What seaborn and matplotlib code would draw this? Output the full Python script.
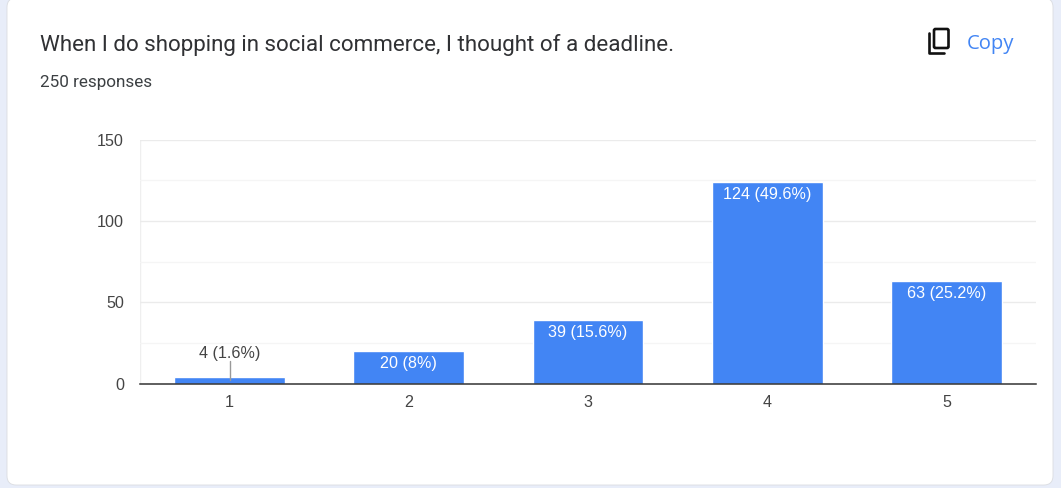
import matplotlib
matplotlib.use("Agg")
import matplotlib.pyplot as plt
from matplotlib.patches import FancyBboxPatch
from matplotlib.lines import Line2D
import pandas as pd
import seaborn as sns

categories = ["1", "2", "3", "4", "5"]
counts = [4, 20, 39, 124, 63]
value_labels = ["4 (1.6%)", "20 (8%)", "39 (15.6%)", "124 (49.6%)", "63 (25.2%)"]
major_ticks = [0, 50, 100, 150]
minor_ticks = [25, 75, 125]
title_text = "When I do shopping in social commerce, I thought of a deadline."
subtitle_text = "250 responses"
copy_text = "Copy"

W, H = 1061, 488
BLUE = "#4285f4"
sns.set_theme(style="white")
plt.rcParams["font.family"] = ["Liberation Sans", "DejaVu Sans"]

fig = plt.figure(figsize=(W / 100, H / 100), dpi=100, facecolor="#e8edf9")

# Full-figure overlay measured in pixels, y pointing down
overlay = fig.add_axes([0, 0, 1, 1], zorder=0)
overlay.set_xlim(0, W)
overlay.set_ylim(H, 0)
overlay.axis("off")
overlay.add_patch(FancyBboxPatch((7, -2), 1046, 487, boxstyle="round,pad=0,rounding_size=9",
                                 fc="white", ec="#dadce0", lw=0.6))
overlay.text(40, 45, title_text, fontsize=16.1, family="Roboto", color="#303134", va="center", ha="left")
overlay.text(40, 82, subtitle_text, fontsize=12.3, family="Roboto", color="#3c4043", va="center", ha="left")
overlay.text(967, 43.5, copy_text, fontsize=14.6, family="Open Sans", color="#4285f4", va="center", ha="left")

# Copy icon: front sheet plus the L-shaped edge of the sheet behind it
overlay.add_patch(FancyBboxPatch((934, 29), 14.5, 19, boxstyle="round,pad=0,rounding_size=1.5",
                                 fc="white", ec="#111111", lw=1.9))
overlay.add_line(Line2D([929, 929, 944], [33, 52.5, 52.5], color="#111111", lw=1.9,
                        solid_capstyle="round", solid_joinstyle="round"))

# Chart area
left, right, top, bottom = 140, 1036, 139.5, 383.5
ax = fig.add_axes([left / W, 1 - bottom / H, (right - left) / W, (bottom - top) / H], zorder=1)
ax.patch.set_alpha(0)

frame = pd.DataFrame({"answer": categories, "count": counts})
sns.barplot(data=frame, x="answer", y="count", color=BLUE, saturation=1, width=0.618, ax=ax, zorder=3)

ax.set_xlim(-0.5, 4.5)
ax.set_ylim(0, 150)
ax.set_yticks(major_ticks)
ax.set_yticks(minor_ticks, minor=True)
ax.set_xlabel("")
ax.set_ylabel("")
ax.grid(False)
ax.grid(True, axis="y", which="major", color="#ebebeb", lw=1, zorder=0)
ax.grid(True, axis="y", which="minor", color="#f5f5f5", lw=1, zorder=0)
ax.axvline(-0.5, color="#efefef", lw=1, zorder=0)
ax.tick_params(axis="both", which="both", length=0)
ax.tick_params(axis="x", labelsize=11.6, labelcolor="#444444", pad=8)
ax.tick_params(axis="y", labelsize=11.6, labelcolor="#444444", pad=11.5)
for tick_label in ax.get_yticklabels():
    tick_label.set_verticalalignment("center_baseline")
for name in ("top", "right", "left"):
    ax.spines[name].set_visible(False)
ax.spines["bottom"].set_color("#333333")
ax.spines["bottom"].set_linewidth(1.1)
ax.spines["bottom"].set_zorder(5)
ax.yaxis.get_gridlines()[0].set_visible(False)

# Value labels sit inside tall bars; short bars get a leader line and a dark label above
for i, (value, label) in enumerate(zip(counts, value_labels)):
    if value < 10:
        ax.plot([i, i], [value / 2, 14], color="#999999", lw=1, zorder=4)
        ax.annotate(label, (i, 14), xytext=(0, 0), textcoords="offset points",
                    ha="center", va="bottom", fontsize=11.6, color="#444444")
    else:
        ax.annotate(label, (i, value), xytext=(0, -3.5), textcoords="offset points",
                    ha="center", va="top", fontsize=11.6, color="white", zorder=5)

fig.savefig("out.png", dpi=100, facecolor=fig.get_facecolor())
